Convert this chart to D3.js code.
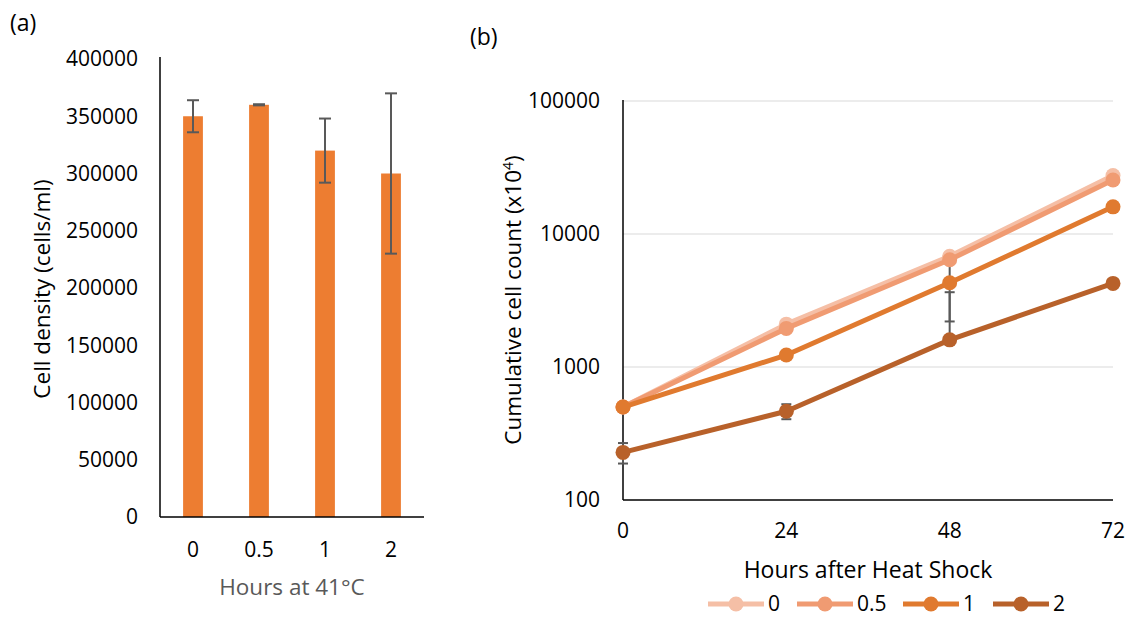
<!DOCTYPE html>
<html>
<head>
<meta charset="utf-8">
<script src="https://cdn.jsdelivr.net/npm/d3@7"></script>
<style>
  body { margin: 0; background: #fff; }
  svg text { font-family: "Open Sans", "Liberation Sans", sans-serif; }
</style>
</head>
<body>
<div id="chart"></div>
<script>
// (a) bar chart data
var heatHours = ["0", "0.5", "1", "2"]
var cellDensity = [350000, 360000, 320000, 300000]
var densityErr = [14000, 500, 28000, 70000]
var densityTicks = [0, 50000, 100000, 150000, 200000, 250000, 300000, 350000, 400000]

// (b) line chart data
var timePoints = [0, 24, 48, 72]
var seriesNames = ["0", "0.5", "1", "2"]
var count0 = [500, 2100, 6800, 27500]
var count05 = [500, 1950, 6400, 25500]
var count1 = [500, 1230, 4300, 16000]
var count2 = [228, 465, 1600, 4250]
var err0 = [0, 0, 0, 0]
var err05 = [0, 0, 0, 0]
var err1 = [0, 0, 2100, 0]
var err2 = [40, 60, 2050, 0]
var countTicks = [100, 1000, 10000, 100000]

var width = 1136, height = 619

var svg = d3.select("#chart").append("svg")
    .attr("width", width)
    .attr("height", height)

// ---------- panel (a) ----------
var xa = d3.scaleBand().domain(heatHours).range([160, 424]).paddingInner(0.7).paddingOuter(0.35)
var ya = d3.scaleLinear().domain([0, 400000]).range([517, 59])

svg.append("text").attr("x", 10).attr("y", 31).style("font-size", "23px").text("(a)")

svg.selectAll(".ytickA").data(densityTicks).enter().append("text")
    .attr("x", 138).attr("y", function (d) { return ya(d) })
    .attr("dy", "0.35em").attr("text-anchor", "end")
    .style("font-size", "21px").attr("fill", "#000")
    .text(function (d) { return d })

svg.selectAll(".bar").data(cellDensity).enter().append("rect")
    .attr("x", function (d, i) { return xa(heatHours[i]) })
    .attr("width", xa.bandwidth())
    .attr("y", function (d) { return ya(d) })
    .attr("height", function (d) { return ya(0) - ya(d) })
    .attr("fill", "#ED7D31")

// error bars
var eb = svg.selectAll(".errA").data(cellDensity).enter().append("g")
eb.append("line")
    .attr("x1", function (d, i) { return xa(heatHours[i]) + xa.bandwidth() / 2 })
    .attr("x2", function (d, i) { return xa(heatHours[i]) + xa.bandwidth() / 2 })
    .attr("y1", function (d, i) { return ya(d + densityErr[i]) })
    .attr("y2", function (d, i) { return ya(d - densityErr[i]) })
    .attr("stroke", "#595959").attr("stroke-width", 2)
eb.each(function (d, i) {
    var cx = xa(heatHours[i]) + xa.bandwidth() / 2
    var g = d3.select(this)
    ;[d + densityErr[i], d - densityErr[i]].forEach(function (v) {
        g.append("line").attr("x1", cx - 6).attr("x2", cx + 6)
            .attr("y1", ya(v)).attr("y2", ya(v))
            .attr("stroke", "#595959").attr("stroke-width", 2)
    })
})

svg.append("line").attr("x1", 160).attr("x2", 160).attr("y1", 57).attr("y2", 517)
    .attr("stroke", "#000").attr("stroke-width", 1.5)
svg.append("line").attr("x1", 160).attr("x2", 424).attr("y1", 517).attr("y2", 517)
    .attr("stroke", "#000").attr("stroke-width", 1.5)

svg.selectAll(".xtickA").data(heatHours).enter().append("text")
    .attr("x", function (d) { return xa(d) + xa.bandwidth() / 2 })
    .attr("y", 557).attr("text-anchor", "middle")
    .style("font-size", "21px").text(function (d) { return d })

svg.append("text").attr("x", 292).attr("y", 595).attr("text-anchor", "middle")
    .attr("fill", "#595959").style("font-size", "22.5px").text("Hours at 41°C")

svg.append("text").attr("transform", "translate(50,289) rotate(-90)")
    .attr("text-anchor", "middle").style("font-size", "22.5px")
    .text("Cell density (cells/ml)")

// ---------- panel (b) ----------
var xb = d3.scaleLinear().domain([0, 72]).range([623, 1113])
var yb = d3.scaleLog().domain([100, 100000]).range([500, 101])

svg.append("text").attr("x", 470).attr("y", 45).style("font-size", "23px").text("(b)")

svg.selectAll(".grid").data(countTicks.slice(1)).enter().append("line")
    .attr("x1", 623).attr("x2", 1113)
    .attr("y1", function (d) { return yb(d) }).attr("y2", function (d) { return yb(d) })
    .attr("stroke", "#D9D9D9").attr("stroke-width", 1)

svg.selectAll(".ytickB").data(countTicks).enter().append("text")
    .attr("x", 600).attr("y", function (d) { return yb(d) })
    .attr("dy", "0.35em").attr("text-anchor", "end")
    .style("font-size", "21px").text(function (d) { return d })

svg.selectAll(".xtickB").data(timePoints).enter().append("text")
    .attr("x", function (d) { return xb(d) }).attr("y", 538)
    .attr("text-anchor", "middle").style("font-size", "21px")
    .text(function (d) { return d })

svg.append("line").attr("x1", 623).attr("x2", 623).attr("y1", 100).attr("y2", 500)
    .attr("stroke", "#000").attr("stroke-width", 1.5)
svg.append("line").attr("x1", 623).attr("x2", 1113).attr("y1", 500).attr("y2", 500)
    .attr("stroke", "#000").attr("stroke-width", 1.5)

var seriesColors = ["#F5BFA6", "#F09B72", "#E07A2F", "#B8612A"]
var allCounts = [count0, count05, count1, count2]
var allErr = [err0, err05, err1, err2]

// error bars (drawn under lines)
allCounts.forEach(function (vals, s) {
    vals.forEach(function (v, i) {
        var e = allErr[s][i]
        if (!e) return
        var cx = xb(timePoints[i])
        var hi = v + e, lo = v - e
        var yHi = yb(hi), yLo = lo > 0 ? yb(lo) : yb(v)
        svg.append("line").attr("x1", cx).attr("x2", cx).attr("y1", yHi).attr("y2", yLo)
            .attr("stroke", "#595959").attr("stroke-width", 2)
        svg.append("line").attr("x1", cx - 5).attr("x2", cx + 5).attr("y1", yHi).attr("y2", yHi)
            .attr("stroke", "#595959").attr("stroke-width", 2)
        if (lo > 0) svg.append("line").attr("x1", cx - 5).attr("x2", cx + 5).attr("y1", yb(lo)).attr("y2", yb(lo))
            .attr("stroke", "#595959").attr("stroke-width", 2)
    })
})

var line = d3.line()
    .x(function (d, i) { return xb(timePoints[i]) })
    .y(function (d) { return yb(d) })

allCounts.forEach(function (vals, s) {
    svg.append("path").datum(vals).attr("d", line)
        .attr("fill", "none").attr("stroke", seriesColors[s]).attr("stroke-width", 5)
        .attr("stroke-linejoin", "round")
    svg.selectAll(".pt" + s).data(vals).enter().append("circle")
        .attr("cx", function (d, i) { return xb(timePoints[i]) })
        .attr("cy", function (d) { return yb(d) })
        .attr("r", 7.5).attr("fill", seriesColors[s])
})

svg.append("text").attr("x", 868).attr("y", 578).attr("text-anchor", "middle")
    .style("font-size", "23px").text("Hours after Heat Shock")

svg.append("text").attr("transform", "translate(521,300) rotate(-90)")
    .attr("text-anchor", "middle").style("font-size", "22.5px")
    .html("Cumulative cell count (x10<tspan dy='-8' style='font-size:14px'>4</tspan><tspan dy='8'>)</tspan>")

// legend
var legendX = [708, 797, 903, 993]
seriesNames.forEach(function (name, s) {
    var lx = legendX[s], ly = 604
    svg.append("line").attr("x1", lx).attr("x2", lx + 56).attr("y1", ly).attr("y2", ly)
        .attr("stroke", seriesColors[s]).attr("stroke-width", 5)
    svg.append("circle").attr("cx", lx + 28).attr("cy", ly).attr("r", 7.5).attr("fill", seriesColors[s])
    svg.append("text").attr("x", lx + 60).attr("y", ly).attr("dy", "0.35em")
        .style("font-size", "21px").text(name)
})
</script>
</body>
</html>
